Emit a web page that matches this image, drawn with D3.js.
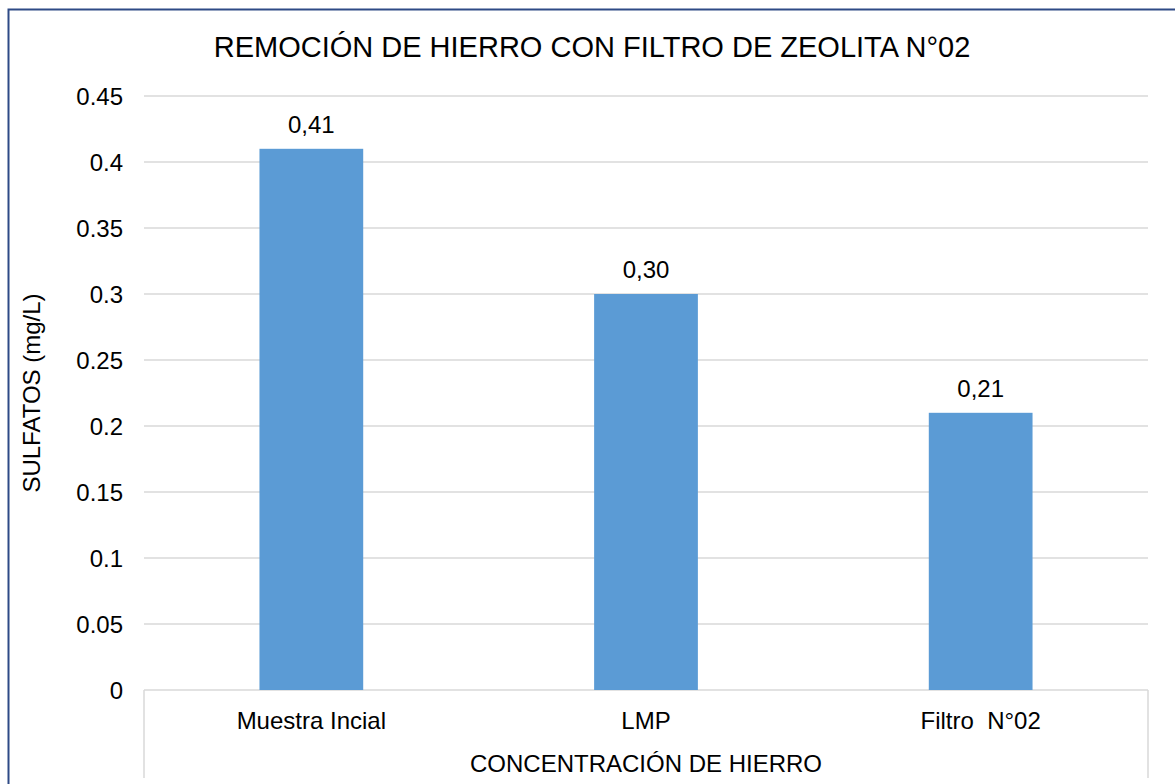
<!DOCTYPE html>
<html><head><meta charset="utf-8">
<script src="https://cdn.jsdelivr.net/npm/d3@7"></script>
<style>html,body{margin:0;padding:0;background:#fff;}svg{display:block;font-family:"Liberation Sans",Arial,sans-serif;}</style>
</head><body><svg id="c" width="1175" height="784"></svg>
<script>
const categories = ["Muestra Incial", "LMP", "Filtro  N°02"];
const values = [0.41, 0.30, 0.21];
const valueLabels = ["0,41", "0,30", "0,21"];
const yTicks = [0, 0.05, 0.1, 0.15, 0.2, 0.25, 0.3, 0.35, 0.4, 0.45];
const yTickLabels = ["0", "0.05", "0.1", "0.15", "0.2", "0.25", "0.3", "0.35", "0.4", "0.45"];
const title = "REMOCIÓN DE HIERRO CON FILTRO DE ZEOLITA N°02";
const xTitle = "CONCENTRACIÓN DE HIERRO";
const yTitle = "SULFATOS (mg/L)";

const svg = d3.select("#c");
const L = 144, R = 1148, T = 96, B = 690;
const x = d3.scaleBand().domain(categories).range([L, R]).paddingInner(0.69).paddingOuter(0.345);
const y = d3.scaleLinear().domain([0, 0.45]).range([B, T]);

// border
svg.append("rect").attr("x", 8.5).attr("y", 9.5).attr("width", 1180).attr("height", 800)
  .attr("fill", "none").attr("stroke", "#2E4A86").attr("stroke-width", 2);

// gridlines
svg.append("g").selectAll("line").data(yTicks).join("line")
  .attr("x1", L).attr("x2", R).attr("y1", d => y(d)).attr("y2", d => y(d))
  .attr("stroke", "#D9D9D9").attr("stroke-width", 1.5);

// axis box verticals
[L, R].forEach(px => svg.append("line").attr("x1", px).attr("x2", px).attr("y1", B).attr("y2", 778)
  .attr("stroke", "#D9D9D9").attr("stroke-width", 1.5));

// y tick labels
svg.append("g").selectAll("text").data(yTicks).join("text")
  .attr("x", 123).attr("y", d => y(d) + 9).attr("text-anchor", "end")
  .attr("font-size", 24).attr("fill", "#000").text((d, i) => yTickLabels[i]);

// bars
svg.append("g").selectAll("rect").data(values).join("rect")
  .attr("x", (d, i) => x(categories[i])).attr("width", x.bandwidth())
  .attr("y", d => y(d)).attr("height", d => B - y(d)).attr("fill", "#5B9BD5");

// data labels
svg.append("g").selectAll("text").data(values).join("text")
  .attr("x", (d, i) => x(categories[i]) + x.bandwidth() / 2).attr("y", d => y(d) - 16)
  .attr("text-anchor", "middle").attr("font-size", 24).attr("fill", "#000")
  .text((d, i) => valueLabels[i]);

// category labels
svg.append("g").selectAll("text").data(categories).join("text")
  .attr("x", d => x(d) + x.bandwidth() / 2).attr("y", 729)
  .attr("text-anchor", "middle").attr("font-size", 24).attr("fill", "#000")
  .style("white-space", "pre").attr("xml:space", "preserve").text(d => d);

// titles
svg.append("text").attr("x", 592).attr("y", 57).attr("text-anchor", "middle")
  .attr("font-size", 29).attr("fill", "#000").text(title);
svg.append("text").attr("x", (L + R) / 2).attr("y", 772).attr("text-anchor", "middle")
  .attr("font-size", 24).attr("fill", "#000").text(xTitle);
svg.append("text").attr("transform", `translate(40,${(T + B) / 2}) rotate(-90)`)
  .attr("text-anchor", "middle").attr("font-size", 24).attr("fill", "#000").text(yTitle);
</script></body></html>
